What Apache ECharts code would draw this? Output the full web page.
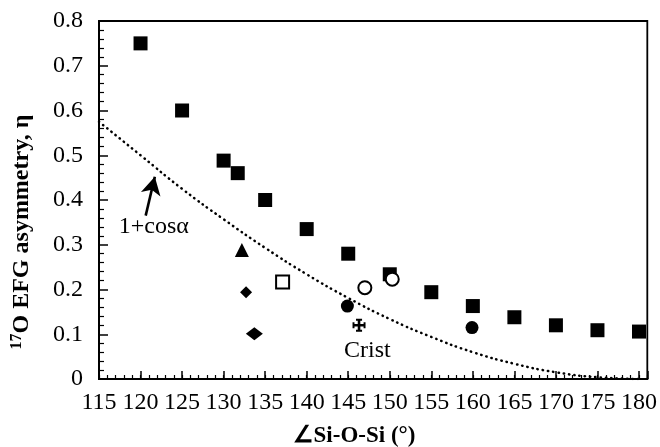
<!DOCTYPE html>
<html>
<head>
<meta charset="utf-8">
<script src="https://cdn.jsdelivr.net/npm/echarts@6/dist/echarts.min.js"></script>
<style>
  html, body { margin: 0; padding: 0; background: #fff; }
  #chart { width: 660px; height: 447px; }
</style>
</head>
<body>
<div id="chart"></div>
<script>
// Si-O-Si bond angle (degrees) vs 17O EFG asymmetry parameter
const squareAngles = [120, 125, 130, 131.7, 135, 140, 145, 150, 155, 160, 165, 170, 175, 180];
const squareEta    = [0.75, 0.60, 0.488, 0.46, 0.40, 0.335, 0.28, 0.234, 0.194, 0.163, 0.138, 0.12, 0.109, 0.106];

const filledCircleAngles = [144.9, 159.9];
const filledCircleEta    = [0.163, 0.115];

const openCircleAngles = [147.0, 150.3];
const openCircleEta    = [0.204, 0.223];

const openSquareAngles = [137.1];
const openSquareEta    = [0.217];

const triangleAngles = [132.2];
const triangleEta    = [0.288];

const smallDiamondAngles = [132.7];
const smallDiamondEta    = [0.194];

const largeDiamondAngles = [133.7];
const largeDiamondEta    = [0.101];

const cristAngles = [146.3];
const cristEta    = [0.12];

// dotted reference curve 1+cos(alpha)
const curveAngles = [115, 120, 125, 130, 135, 140, 145, 150, 155, 160, 165, 170, 175, 180];
const curveEta    = [0.575, 0.50, 0.425, 0.357, 0.293, 0.234, 0.181, 0.134, 0.094, 0.060, 0.034, 0.015, 0.004, 0.0];

// annotations
const noteTexts  = ['1+cosα', 'Crist'];
const noteAngles = [121.6, 147.3];
const noteEta    = [0.34, 0.064];
const arrowFrom  = [120.62, 0.365];
const arrowTo    = [121.72, 0.452];

const xTickLabels = [115, 120, 125, 130, 135, 140, 145, 150, 155, 160, 165, 170, 175, 180];

const zip = (xs, ys) => xs.map((x, i) => [x, ys[i]]);

const FONT = '"Liberation Serif", "Times New Roman", serif';

// flared cross marker
const crossPath = 'path://M4.8,1 L7.2,1 L7.2,4.8 L11,4.8 L11,7.2 L7.2,7.2 L7.2,11 L4.8,11 L4.8,7.2 L1,7.2 L1,4.8 L4.8,4.8 Z ' +
  'M3.2,0 L8.8,0 L8.8,1.8 L3.2,1.8 Z M3.2,10.2 L8.8,10.2 L8.8,12 L3.2,12 Z ' +
  'M0,3.2 L1.8,3.2 L1.8,8.8 L0,8.8 Z M10.2,3.2 L12,3.2 L12,8.8 L10.2,8.8 Z';

const chart = echarts.init(document.getElementById('chart'));

const markerBase = { type: 'scatter', silent: true, animation: false };
const solid = { color: '#000', opacity: 1 };
const hollow = { color: '#fff', borderColor: '#000', borderWidth: 2, opacity: 1 };

chart.setOption({
  animation: false,
  backgroundColor: '#fff',
  grid: {
    left: 99, right: 12, top: 21, bottom: 68,
    show: true, borderColor: '#000', borderWidth: 1.8, backgroundColor: 'transparent'
  },
  xAxis: [
    {
      // minor 1-degree ticks
      type: 'value', min: 115, max: 181, interval: 1, position: 'bottom',
      axisLine: { show: true, lineStyle: { color: '#000', width: 2 } },
      axisTick: { show: true, inside: true, length: 4, lineStyle: { color: '#000', width: 1.2 } },
      axisLabel: { show: false },
      splitLine: { show: false }
    },
    {
      // major 5-degree ticks with labels
      type: 'value', min: 115, max: 181, interval: 5, position: 'bottom',
      axisLine: { show: false },
      axisTick: { show: true, inside: true, length: 8, lineStyle: { color: '#000', width: 1.5 } },
      axisLabel: {
        show: true, margin: 12, color: '#000', fontFamily: FONT, fontSize: 24,
        formatter: v => (xTickLabels.indexOf(v) >= 0 ? String(v) : '')
      },
      splitLine: { show: false }
    }
  ],
  yAxis: {
    type: 'value', min: 0, max: 0.8, interval: 0.1,
    axisLine: { show: true, lineStyle: { color: '#000', width: 2 } },
    axisTick: { show: true, inside: true, length: 9, lineStyle: { color: '#000', width: 1.5 } },
    minorTick: { show: true, splitNumber: 5, length: 5, lineStyle: { color: '#000', width: 1.2 } },
    axisLabel: {
      show: true, margin: 16, color: '#000', fontFamily: FONT, fontSize: 24,
      formatter: v => (v === 0 ? '0' : v.toFixed(1))
    },
    splitLine: { show: false }
  },
  graphic: [
    {
      type: 'text', rotation: Math.PI / 2,
      x: 22, y: 232,
      style: {
        text: '{sup|17}{b|O EFG asymmetry, η}',
        fill: '#000', align: 'center', verticalAlign: 'middle',
        rich: {
          sup: { fontFamily: FONT, fontSize: 16, fontWeight: 'bold', verticalAlign: 'top', lineHeight: 26 },
          b: { fontFamily: FONT, fontSize: 24, fontWeight: 'bold', lineHeight: 26 }
        }
      }
    },
    {
      type: 'text', x: 354, y: 436,
      style: {
        text: '∠Si-O-Si (°)', fill: '#000', align: 'center', verticalAlign: 'middle',
        font: 'bold 23px "Liberation Serif", "Times New Roman", serif'
      }
    }
  ],
  series: [
    {
      type: 'line', xAxisIndex: 0, data: zip(curveAngles, curveEta), smooth: true,
      showSymbol: false, silent: true,
      lineStyle: { color: '#000', width: 2.5, type: [0.4, 4.9], cap: 'round', opacity: 1 },
      markLine: {
        silent: true, symbol: ['none', 'arrow'], symbolSize: [15, 18],
        label: { show: false },
        lineStyle: { color: '#000', width: 2.6, type: 'solid', opacity: 1 },
        data: [[{ coord: arrowFrom }, { coord: arrowTo }]]
      }
    },
    Object.assign({}, markerBase, {
      data: zip(squareAngles, squareEta), symbol: 'rect', symbolSize: 14,
      itemStyle: solid
    }),
    Object.assign({}, markerBase, {
      data: zip(openSquareAngles, openSquareEta), symbol: 'rect', symbolSize: 13,
      itemStyle: hollow
    }),
    Object.assign({}, markerBase, {
      data: zip(filledCircleAngles, filledCircleEta), symbol: 'circle', symbolSize: 13,
      itemStyle: solid
    }),
    Object.assign({}, markerBase, {
      data: zip(openCircleAngles, openCircleEta), symbol: 'circle', symbolSize: 13,
      itemStyle: hollow
    }),
    Object.assign({}, markerBase, {
      data: zip(triangleAngles, triangleEta), symbol: 'triangle', symbolSize: 14,
      itemStyle: solid
    }),
    Object.assign({}, markerBase, {
      data: zip(smallDiamondAngles, smallDiamondEta), symbol: 'diamond', symbolSize: [12, 12],
      itemStyle: solid
    }),
    Object.assign({}, markerBase, {
      data: zip(largeDiamondAngles, largeDiamondEta), symbol: 'diamond', symbolSize: [17, 13],
      itemStyle: solid
    }),
    Object.assign({}, markerBase, {
      data: zip(cristAngles, cristEta), symbol: crossPath, symbolSize: 13,
      itemStyle: solid
    }),
    Object.assign({}, markerBase, {
      data: zip(noteAngles, noteEta).map((p, i) => ({ value: p, name: noteTexts[i] })),
      symbolSize: 0,
      itemStyle: solid,
      label: {
        show: true, position: 'inside', formatter: p => p.name,
        color: '#000', opacity: 1, fontFamily: FONT, fontSize: 24
      }
    })
  ]
});
</script>
</body>
</html>
